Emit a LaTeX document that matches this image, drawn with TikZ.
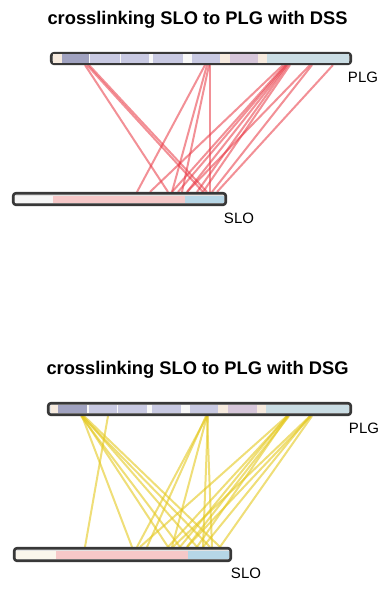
\documentclass[tikz,border=0pt]{standalone}
\usepackage{fontspec}
\setmainfont{Liberation Sans}
\usetikzlibrary{positioning,backgrounds}

\definecolor{barline}{RGB}{56,56,56}
\definecolor{barbase}{RGB}{226,226,226}
\definecolor{plgdark}{RGB}{160,162,192}
\definecolor{plglav}{RGB}{200,201,226}
\definecolor{plgpink}{RGB}{214,198,218}
\definecolor{plgbeige}{RGB}{246,234,222}
\definecolor{plgwhite}{RGB}{248,248,248}
\definecolor{plgblue}{RGB}{202,221,228}
\definecolor{slowhite}{RGB}{246,246,246}
\definecolor{slocream}{RGB}{250,246,236}
\definecolor{slopink}{RGB}{246,200,200}
\definecolor{sloblue}{RGB}{182,214,230}
\definecolor{dssred}{RGB}{232,52,64}
\definecolor{dsgyellow}{RGB}{228,200,30}

\begin{document}
\begin{tikzpicture}[%
    x=1pt, y=-1pt,              % work in pixels, y going down
    line join=round,
    ]
% -------------------------------------------------
% A few styles
\tikzset{
  bar/.style={draw=barline, fill=barbase, line width=2.6pt,
    rounded corners=2.5pt, inner sep=0pt},
  title/.style={font={\fontsize{18.3}{21}\selectfont\bfseries}},
  lbl/.style={font={\fontsize{15}{18}\selectfont}},
  % Connector line styles for the two crosslinkers
  dsslink/.style={draw=dssred, line width=2pt, draw opacity=0.55},
  dsglink/.style={draw=dsgyellow, line width=2pt, draw opacity=0.6}
}
\useasboundingbox (0,0) rectangle (383,589);
% -------------------------------------------------
% Upper panel: DSS
\node [title] (tDSS) at (197.5,20) {crosslinking SLO to PLG with DSS};
\node [bar, minimum width=299.5pt, minimum height=10.5pt] (plgA) at (201,58.5) {};
\node [bar, minimum width=212.5pt, minimum height=11.5pt] (sloA) at (119.5,199) {};
\foreach \xa/\xb/\col in {52.5/62/plgbeige, 62/89/plgdark, 89/90/plgwhite,
    90/120/plglav, 120/121/plgwhite, 121/149/plglav, 149/153/plgwhite,
    153/183/plglav, 183/192/plgwhite, 192/220/plglav, 220/230/plgbeige,
    230/258/plgpink, 258/267/plgbeige, 267/349/plgblue}
  \fill [\col] (\xa,54.3) rectangle (\xb,62.7);
\foreach \xa/\xb/\col in {15/53/slowhite, 53/185/slopink, 185/223.5/sloblue}
  \fill [\col] (\xa,195.5) rectangle (\xb,203);
\node [lbl] (plgLblA) at (363,77) {PLG};
\node [lbl] (sloLblA) at (239,218.5) {SLO};

\begin{scope}[on background layer]
\foreach \a/\b in {85/168, 87/203, 89/207, 205/137, 207/172, 209/182,
    210/210, 283/150, 285/172, 286/178, 287/187, 288/197, 290/203,
    310/187, 312/212, 333/217}
  \draw [dsslink] (\a,0 |- plgA.south) -- (\b,0 |- sloA.north);
\end{scope}

% -------------------------------------------------
% Lower panel: DSG
\node [title] (tDSG) at (197.5,370) {crosslinking SLO to PLG with DSG};
\node [bar, minimum width=302.5pt, minimum height=11.5pt] (plgB) at (199.5,409) {};
\node [bar, minimum width=216.5pt, minimum height=12.5pt] (sloB) at (122.5,554.5) {};
\foreach \xa/\xb/\col in {50.5/58/plgbeige, 58/87/plgdark, 87/88.5/plgwhite,
    88.5/117/plglav, 117/118/plgwhite, 118/147/plglav, 147/152/plgwhite,
    152/181/plglav, 181/190/plgwhite, 190/218/plglav, 218/228/plgbeige,
    228/257/plgpink, 257/266/plgbeige, 266/349/plgblue}
  \fill [\col] (\xa,404.7) rectangle (\xb,413.3);
\foreach \xa/\xb/\col in {16/56/slocream, 56/188/slopink, 188/229/sloblue}
  \fill [\col] (\xa,550.5) rectangle (\xb,558.5);
\node [lbl] (plgLblB) at (364,428) {PLG};
\node [lbl] (sloLblB) at (246,573.5) {SLO};

\begin{scope}[on background layer]
\foreach \a/\b in {108/85, 82/132, 82/168, 81/180, 83/197, 82/210,
    84/220, 207/137, 206/147, 207/172, 208/203, 207/212, 287/140,
    288/168, 287/180, 289/187, 288/197, 310/173, 311/187, 310/203,
    312/220}
  \draw [dsglink] (\a,0 |- plgB.south) -- (\b,0 |- sloB.north);
\end{scope}
% -------------------------------------------------
\end{tikzpicture}
\end{document}
